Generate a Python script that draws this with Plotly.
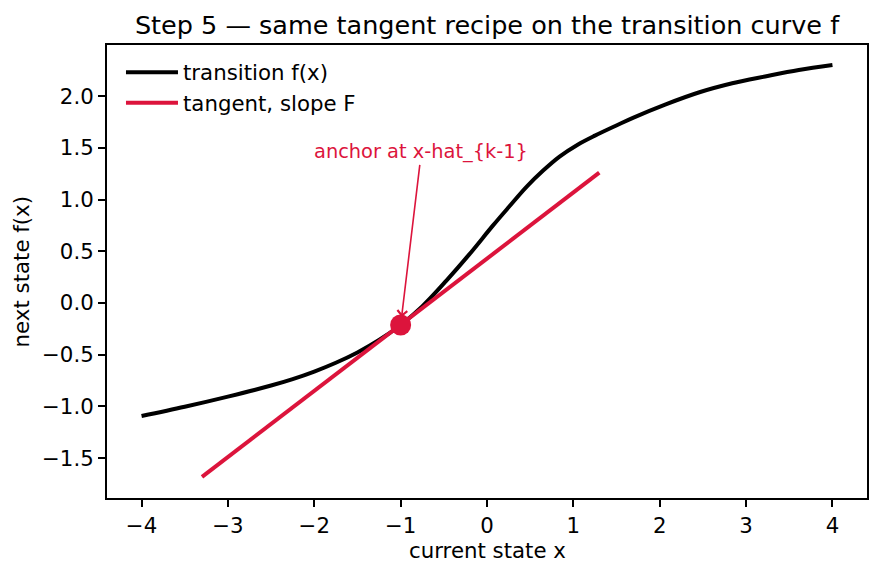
import plotly.graph_objects as go

# ---- data ----
curve_x = [-4.0, -3.5, -3.0, -2.5, -2.25, -2.0, -1.75, -1.5, -1.25, -1.0, -0.75,
           -0.47, -0.215, 0.07, 0.25, 0.46, 0.65, 0.84, 1.05, 1.25, 1.51, 1.69,
           2.07, 2.46, 2.84, 3.22, 3.61, 4.0]
curve_y = [-1.093, -1.003, -0.905, -0.798, -0.736, -0.663, -0.578, -0.478, -0.358, -0.213, -0.033,
           0.216, 0.46, 0.75, 0.925, 1.125, 1.28, 1.415, 1.53, 1.618, 1.721, 1.79,
           1.92, 2.037, 2.124, 2.19, 2.253, 2.301]
tangent_x = [-3.3, 1.3]
tangent_y = [-1.68, 1.26]
anchor_x = [-1.0]
anchor_y = [-0.213]
label_pos = (-0.76, 1.46)

x_ticks = [-4, -3, -2, -1, 0, 1, 2, 3, 4]
y_ticks = [-1.5, -1.0, -0.5, 0.0, 0.5, 1.0, 1.5, 2.0]

CRIMSON = "#DC143C"
FONT = "DejaVu Sans"
FS = 21.3

def fmt(v, nd):
    s = f"{abs(v):.{nd}f}"
    return ("\u2212" + s) if v < 0 else s

fig = go.Figure()
fig.add_trace(go.Scatter(x=curve_x, y=curve_y, mode="lines", name="transition f(x)",
                         line=dict(color="black", width=4, shape="spline", smoothing=1.0)))
fig.add_trace(go.Scatter(x=tangent_x, y=tangent_y, mode="lines", name="tangent, slope F",
                         line=dict(color=CRIMSON, width=4)))
fig.add_trace(go.Scatter(x=anchor_x, y=anchor_y, mode="markers", showlegend=False,
                         marker=dict(color=CRIMSON, size=21)))

fig.add_annotation(x=anchor_x[0], y=anchor_y[0], xref="x", yref="y",
                   ax=label_pos[0], ay=label_pos[1], axref="x", ayref="y",
                   text="anchor at x-hat_{k-1}", showarrow=True,
                   arrowhead=4, arrowsize=1.2, arrowwidth=1.6, arrowcolor=CRIMSON,
                   standoff=8, font=dict(family=FONT, size=19.4, color=CRIMSON))

axis_common = dict(showgrid=False, zeroline=False, showline=True, linecolor="black",
                   linewidth=2, mirror=True, ticks="outside", ticklen=7, tickwidth=1.5,
                   tickcolor="black", tickfont=dict(family=FONT, size=FS, color="black"))

fig.update_xaxes(range=[-4.4, 4.4], tickvals=x_ticks,
                 ticktext=[fmt(v, 0) for v in x_ticks], **axis_common)
fig.update_yaxes(range=[-1.885, 2.494], tickvals=y_ticks,
                 ticktext=[fmt(v, 1) for v in y_ticks], **axis_common)

fig.add_annotation(text="current state x", xref="paper", yref="paper", x=0.5, y=-0.115,
                   yanchor="middle", showarrow=False,
                   font=dict(family=FONT, size=FS, color="black"))
fig.add_annotation(text="next state f(x)", xref="paper", yref="paper", x=-0.112, y=0.5,
                   xanchor="center", yanchor="middle", textangle=-90, showarrow=False,
                   font=dict(family=FONT, size=FS, color="black"))

fig.update_layout(
    width=880, height=573,
    margin=dict(l=107, r=13, t=45, b=75),
    paper_bgcolor="white", plot_bgcolor="white",
    title=dict(text="Step 5 \u2014 same tangent recipe on the transition curve f",
               x=0.5, xref="paper", y=1 - 25 / 573, yref="container", yanchor="middle",
               font=dict(family=FONT, size=25.5, color="black")),
    legend=dict(x=0.0184, y=0.985, xanchor="left", yanchor="top",
                bgcolor="rgba(255,255,255,0)", font=dict(family=FONT, size=FS, color="black"),
                itemwidth=52),
    showlegend=True,
)

fig.write_html("out.html")
